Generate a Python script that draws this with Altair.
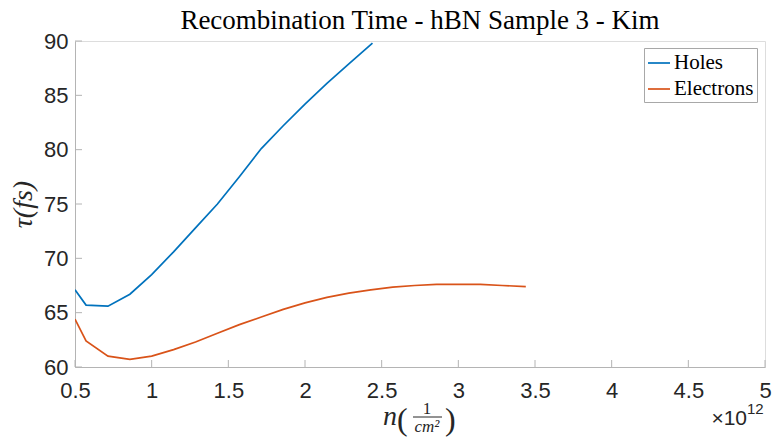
import altair as alt
import pandas as pd

# Data (n in units of 1e12 cm^-2, tau in fs)
n_holes = [0.5, 0.572, 0.715, 0.858, 1.0, 1.143, 1.286, 1.429, 1.572, 1.715, 1.858, 2.0, 2.143, 2.286, 2.44]
tau_holes = [67.1, 65.7, 65.6, 66.7, 68.5, 70.6, 72.8, 75.0, 77.5, 80.1, 82.2, 84.2, 86.1, 87.9, 89.8]

n_elec = [0.5, 0.572, 0.715, 0.858, 1.0, 1.143, 1.286, 1.429, 1.572, 1.715, 1.858, 2.0, 2.143,
          2.286, 2.429, 2.572, 2.715, 2.858, 3.0, 3.143, 3.286, 3.44]
tau_elec = [64.4, 62.4, 61.0, 60.7, 61.0, 61.6, 62.3, 63.1, 63.9, 64.6, 65.3, 65.9, 66.4,
            66.8, 67.1, 67.35, 67.5, 67.6, 67.6, 67.6, 67.5, 67.4]

x_ticks = [0.5, 1, 1.5, 2, 2.5, 3, 3.5, 4, 4.5, 5]
y_ticks = [60, 65, 70, 75, 80, 85, 90]

series = ["Holes", "Electrons"]
colors = ["#0072BD", "#D95319"]

df = pd.concat([
    pd.DataFrame({"n": n_holes, "tau": tau_holes, "s": "Holes", "o": 0}),
    pd.DataFrame({"n": n_elec, "tau": tau_elec, "s": "Electrons", "o": 1}),
])

W, H = 690, 326
xs = alt.Scale(domain=[0.5, 5], nice=False, zero=False)
ys = alt.Scale(domain=[60, 90], nice=False, zero=False)

AX = "#262626"
GR = "#b4b4b4"
SERIF = "Liberation Serif"
axis_common = dict(
    ticks=False, grid=False, domainColor=GR, domainWidth=1,
    labelFont="Liberation Sans", labelFontSize=22, labelColor=AX,
    labelOverlap=False, labelBound=False, labelFlush=False,
)

lines = alt.Chart(df).mark_line(strokeWidth=1.7, clip=True).encode(
    x=alt.X("n:Q", scale=xs, axis=alt.Axis(values=x_ticks, labelExpr="datum.value",
                                            title=None, labelPadding=13, **axis_common)),
    y=alt.Y("tau:Q", scale=ys, axis=alt.Axis(values=y_ticks, title="τ(fs)", labelPadding=7,
                                              titleFont=SERIF, titleFontStyle="italic",
                                              titleFontWeight="normal", titleFontSize=28,
                                              titleColor=AX, titlePadding=6, **axis_common)),
    color=alt.Color("s:N", scale=alt.Scale(domain=series, range=colors),
                    legend=alt.Legend(title=None, orient="none", legendX=569, legendY=7,
                                      symbolType="stroke", symbolStrokeWidth=1.7, symbolSize=484,
                                      labelFont=SERIF, labelFontSize=21, labelColor="#000",
                                      strokeColor="#a8a8a8", fillColor="white", padding=3,
                                      rowPadding=4, labelOffset=3)),
    order="o:Q",
)

xt = alt.Chart(pd.DataFrame({"v": x_ticks})).mark_rule(color=GR, strokeWidth=1).encode(
    x=alt.X("v:Q", scale=xs), y=alt.value(H), y2=alt.value(H - 7))
yt = alt.Chart(pd.DataFrame({"v": y_ticks})).mark_rule(color=GR, strokeWidth=1).encode(
    y=alt.Y("v:Q", scale=ys), x=alt.value(0), x2=alt.value(7))


def txt(t, x, y, size, font=SERIF, style="normal", align="left", color=AX, baseline="alphabetic"):
    return alt.Chart(pd.DataFrame({"t": [t]})).mark_text(
        font=font, fontSize=size, fontStyle=style, color=color, align=align,
        baseline=baseline).encode(text="t:N", x=alt.value(x), y=alt.value(y))


# x-axis title  n( 1 / cm^2 )
xl_n = txt("n", 308, 384, 28, style="italic")
xl_lp = txt("(", 322, 389, 32)
xl_num = txt("1", 352, 373, 17, align="center")
xl_bar = alt.Chart(pd.DataFrame({"t": [0]})).mark_rule(color=AX, strokeWidth=1).encode(
    x=alt.value(338), x2=alt.value(367), y=alt.value(376))
xl_den = txt("cm²", 352, 391, 17, style="italic", align="center")
xl_rp = txt(")", 370, 389, 32)

exp1 = txt("×10", W - 18, H + 58, 21, font="Liberation Sans", align="right")
exp2 = txt("12", W - 18, H + 47, 15, font="Liberation Sans", align="left")

# chart title as a text mark (baseline at page y ~29)
title = txt("Recombination Time - hBN Sample 3 - Kim", W / 2, -12, 27, color="#000",
            align="center")

chart = alt.layer(lines, xt, yt, xl_n, xl_lp, xl_num, xl_bar, xl_den, xl_rp, exp1, exp2,
                  title).properties(
    width=W, height=H,
    autosize=alt.AutoSizeParams(type="none"),
    padding={"left": 75, "top": 41, "right": 8, "bottom": 74},
).configure_view(stroke=None).configure(background="white")

chart.save("out.html", embed_options={"renderer": "svg", "actions": False})
